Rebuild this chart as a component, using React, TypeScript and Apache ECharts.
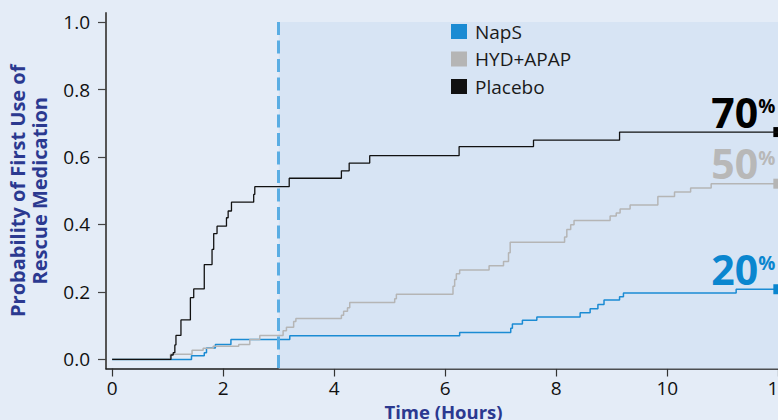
import React, { useEffect, useRef } from "react";
import * as echarts from "echarts";

// ---- Data ----
const seriesNames = ["NapS", "HYD+APAP", "Placebo"];

const napsTimes = [0, 1.43, 1.66, 1.7, 1.86, 2.14, 3.2, 6.26, 7.18, 7.21, 7.39, 7.65, 8.43, 8.61, 8.75, 8.86, 9.14, 9.21, 11.24, 12];
const napsValues = [0, 0.011, 0.02, 0.034, 0.044, 0.059, 0.07, 0.08, 0.092, 0.105, 0.116, 0.126, 0.138, 0.15, 0.163, 0.176, 0.186, 0.197, 0.208, 0.208];

const hydTimes = [0, 1.05, 1.44, 1.64, 1.82, 2.28, 2.48, 2.66, 3.08, 3.14, 3.27, 3.31, 4.13, 4.17, 4.24, 4.28, 5.09, 5.12, 6.14, 6.17, 6.2, 6.26, 6.79, 7.05, 7.14, 7.17, 8.15, 8.19, 8.26, 8.32, 8.97, 9.08, 9.15, 9.33, 9.83, 10.13, 10.42, 10.79, 12];
const hydValues = [0, 0.015, 0.027, 0.033, 0.039, 0.044, 0.059, 0.071, 0.085, 0.095, 0.112, 0.121, 0.131, 0.143, 0.153, 0.169, 0.18, 0.193, 0.217, 0.237, 0.254, 0.265, 0.278, 0.29, 0.316, 0.347, 0.363, 0.385, 0.399, 0.412, 0.425, 0.434, 0.446, 0.458, 0.483, 0.496, 0.508, 0.521, 0.521];

const placeboTimes = [0, 1.06, 1.1, 1.13, 1.15, 1.24, 1.41, 1.47, 1.66, 1.8, 1.83, 1.89, 2.06, 2.09, 2.15, 2.55, 2.57, 3.19, 4.13, 4.27, 4.64, 6.25, 7.59, 9.14, 12];
const placeboValues = [0, 0.013, 0.02, 0.043, 0.071, 0.117, 0.183, 0.209, 0.281, 0.326, 0.373, 0.395, 0.42, 0.44, 0.466, 0.489, 0.512, 0.537, 0.559, 0.582, 0.604, 0.631, 0.65, 0.674, 0.674];

const endLabels = ["20", "50", "70"];
const xTicks = [0, 2, 4, 6, 8, 10, 12];
const yTicks = [0, 0.2, 0.4, 0.6, 0.8, 1.0];
const treatmentStart = 3;

const X_MIN = -0.11;
const X_MAX = 12.3;
const Y_MIN = -0.027;
const Y_MAX = 1.027;

// ---- Styles ----
const BG = "#e4ecf7";
const SHADE = "#d7e4f4";
const NAVY = "#2b3990";
const FONT = "'Open Sans', 'Noto Sans', sans-serif";
const lineColors = ["#1b8bd3", "#b5b5b5", "#111111"];
const markerColors = ["#0a86cf", "#b5b5b5", "#000000"];
const labelColors = ["#0a86cf", "#b8b8b8", "#000000"];

const zip = (t: number[], v: number[]) => t.map((x, i) => [x, v[i]]);

function makeSeries(idx: number, data: number[][], extra: any = {}) {
  const last = data[data.length - 1];
  return {
    name: seriesNames[idx],
    type: "line",
    step: "end",
    data,
    color: lineColors[idx],
    showSymbol: false,
    symbol: "none",
    lineStyle: { color: lineColors[idx], width: idx === 2 ? 1.3 : 1.5 },
    z: 3 + idx,
    markPoint: {
      symbol: "rect",
      symbolSize: 10,
      itemStyle: { color: markerColors[idx] },
      data: [
        {
          coord: [last[0], last[1]],
          label: {
            show: true,
            position: [2, 4.5],
            align: "right",
            verticalAlign: "bottom",
            formatter: "{n|" + endLabels[idx] + "}{p|%}",
            rich: {
              n: { fontFamily: FONT, fontSize: 41, fontWeight: "bold", color: labelColors[idx], lineHeight: 40 },
              p: { fontFamily: FONT, fontSize: 19, fontWeight: "bold", color: labelColors[idx], verticalAlign: "top", lineHeight: 19, padding: [5, 0, 0, 0] },
            },
          },
        },
      ],
    },
    ...extra,
  };
}

export default function App() {
  const ref = useRef<HTMLDivElement>(null);
  useEffect(() => {
    const chart = echarts.init(ref.current!, null, { renderer: "svg" });
    const option: any = {
      animation: false,
      backgroundColor: BG,
      grid: { left: 106, top: 13, width: 689, height: 355.5, containLabel: false, outerBoundsMode: "none" },
      legend: {
        data: seriesNames,
        orient: "vertical",
        left: 446,
        top: 17,
        icon: "rect",
        itemWidth: 16,
        itemHeight: 15,
        itemGap: 8.5,
        textStyle: { fontFamily: FONT, fontSize: 19, color: "#1a1a1a", padding: [0, 0, 0, 3] },
      },
      xAxis: {
        type: "value",
        min: X_MIN,
        max: X_MAX,
        name: "Time (Hours)",
        nameLocation: "middle",
        nameGap: 31,
        nameTextStyle: { fontFamily: FONT, fontSize: 18.5, fontWeight: "bold", color: NAVY, lineHeight: 18, padding: [0, 14, 0, 0] },
        axisLine: { show: true, onZero: false, lineStyle: { color: "#1a1a1a", width: 1.5 } },
        axisTick: { show: true, customValues: xTicks, length: 8, lineStyle: { color: "#333", width: 1.2 } },
        axisLabel: { customValues: xTicks, fontFamily: FONT, fontSize: 19, color: "#111", margin: 10 },
        splitLine: { show: false },
      },
      yAxis: {
        type: "value",
        min: Y_MIN,
        max: Y_MAX,
        name: "Probability of First Use of\nRescue Medication",
        nameLocation: "middle",
        nameGap: 56,
        nameTextStyle: { fontFamily: FONT, fontSize: 20, fontWeight: "bold", color: NAVY, lineHeight: 22 },
        axisLine: { show: true, onZero: false, lineStyle: { color: "#555", width: 2 } },
        axisTick: { show: true, customValues: yTicks, length: 8, lineStyle: { color: "#444", width: 1.2 } },
        axisLabel: {
          customValues: yTicks,
          fontFamily: FONT,
          fontSize: 19,
          color: "#111",
          margin: 16,
          formatter: (v: number) => v.toFixed(1),
        },
        splitLine: { show: false },
      },
      series: [
        makeSeries(1, zip(hydTimes, hydValues), {
          markArea: {
            silent: true,
            itemStyle: { color: SHADE },
            data: [[{ xAxis: treatmentStart, yAxis: 1 }, { xAxis: X_MAX, yAxis: Y_MIN }]],
          },
          markLine: {
            silent: true,
            symbol: "none",
            label: { show: false },
            lineStyle: { color: "#5aade3", width: 3, type: [13, 5.5] },
            data: [[{ coord: [treatmentStart, 1] }, { coord: [treatmentStart, Y_MIN] }]],
          },
        }),
        makeSeries(0, zip(napsTimes, napsValues)),
        makeSeries(2, zip(placeboTimes, placeboValues)),
      ],
    };
    chart.setOption(option);
    return () => chart.dispose();
  }, []);
  return (
    <div style={{ position: "fixed", left: 0, top: 0, width: 778, height: 420, overflow: "hidden", background: BG }}>
      <div ref={ref} style={{ width: 900, height: 420 }} />
    </div>
  );
}
